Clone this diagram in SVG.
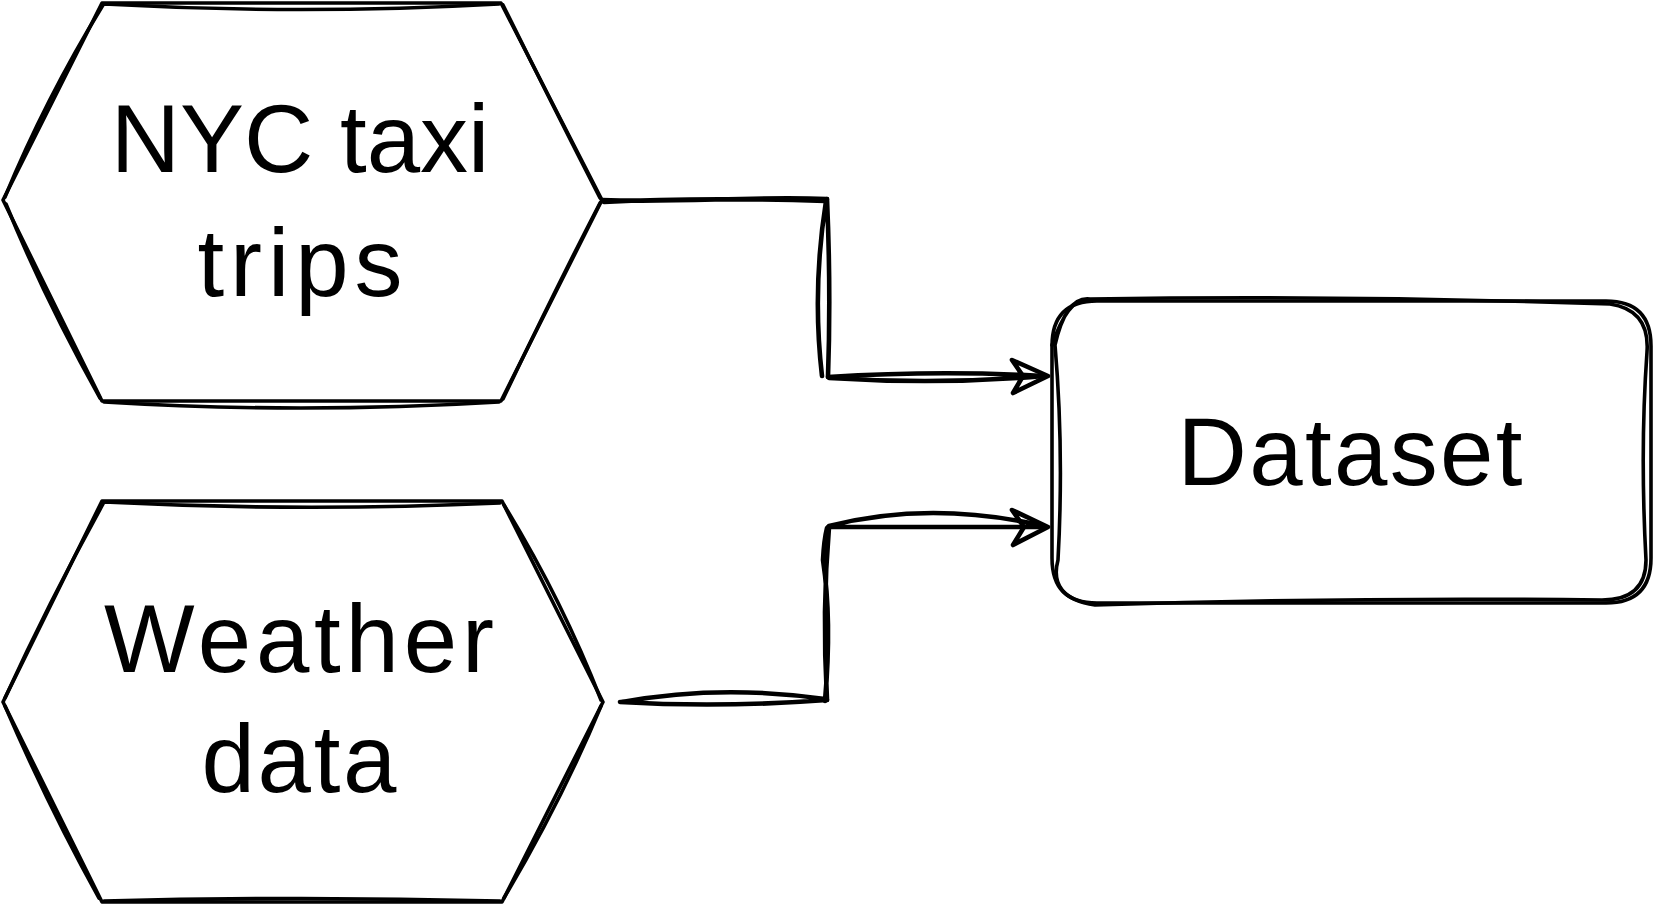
<svg xmlns="http://www.w3.org/2000/svg" width="1655" height="905" viewBox="0 0 1655 905">
<style>
.s{fill:none;stroke:#000;stroke-width:3.6;stroke-linecap:round;stroke-linejoin:round}
.c{fill:none;stroke:#000;stroke-width:4.6;stroke-linecap:round;stroke-linejoin:round}
.t{font-family:"Liberation Sans","DejaVu Sans",sans-serif;font-size:96px;fill:#000;text-anchor:middle}
</style>
<rect width="1655" height="905" fill="#fff"/>
<g id="connectors">
  <path class="c" d="M602,200 C680,203 750,196 827,199 M604,202 Q700,197 825,201"/>
  <path class="c" d="M827,199 Q831,290 828,377 M826,201 Q812,290 822,376"/>
  <path class="c" d="M828,377 Q940,370 1044,376 M829,378 Q940,385 1044,376"/>
  <path class="c" d="M1012,360 L1048,376 L1013,393 L1023,376 Z"/>
  <path class="c" d="M620,702 Q720,708 827,700 M622,702 Q720,684 825,699"/>
  <path class="c" d="M827,700 Q822,610 829,527 M825,701 Q832,620 823,560 Q824,540 827,528"/>
  <path class="c" d="M828,527 L1044,527 M829,526 Q930,500 1044,526"/>
  <path class="c" d="M1012,510 L1048,527 L1013,545 L1024,527 Z"/>
</g>
<g id="nyc">
  <path class="s" d="M102,3 L501,3 L602,200 L501,401 L102,401 L3,200 Z"/>
  <path class="s" d="M104,4 Q300,15 499,4 M503,5 Q550,100 600,198 M600,203 Q555,290 503,399 M499,402 Q300,414 104,402 M100,398 Q45,300 6,204 M5,197 Q45,100 103,5"/>
  <text class="t" x="300" y="172">NYC taxi</text>
  <text class="t" x="300" y="296" textLength="205" lengthAdjust="spacing">trips</text>
</g>
<g id="weather">
  <path class="s" d="M102,501 L502,501 L603,702 L502,902 L102,902 L3,702 Z"/>
  <path class="s" d="M104,502 Q300,512 500,503 M504,505 Q562,600 601,700 M601,706 Q562,800 504,898 M500,901 Q300,896 104,901 M99,898 Q50,810 5,706 M5,698 Q50,600 103,504"/>
  <text class="t" x="299" y="672" textLength="390" lengthAdjust="spacing">Weather</text>
  <text class="t" x="299" y="792" textLength="195" lengthAdjust="spacing">data</text>
</g>
<g id="dataset">
  <path class="s" d="M1097,301 L1606,301 Q1651,301 1651,346 L1651,558 Q1651,603 1606,603 L1097,603 Q1052,603 1052,558 L1052,346 Q1052,301 1097,301 Z"/>
  <path class="s" d="M1090,299 Q1350,295 1610,304 Q1650,310 1647,352 Q1640,450 1646,560 Q1646,600 1602,600 Q1350,597 1095,605 Q1048,598 1058,560 Q1064,450 1055,345 Q1066,296 1090,299 M1052,345 Q1070,292 1094,300"/>
  <text class="t" x="1350" y="485" textLength="345" lengthAdjust="spacing">Dataset</text>
</g>
</svg>
